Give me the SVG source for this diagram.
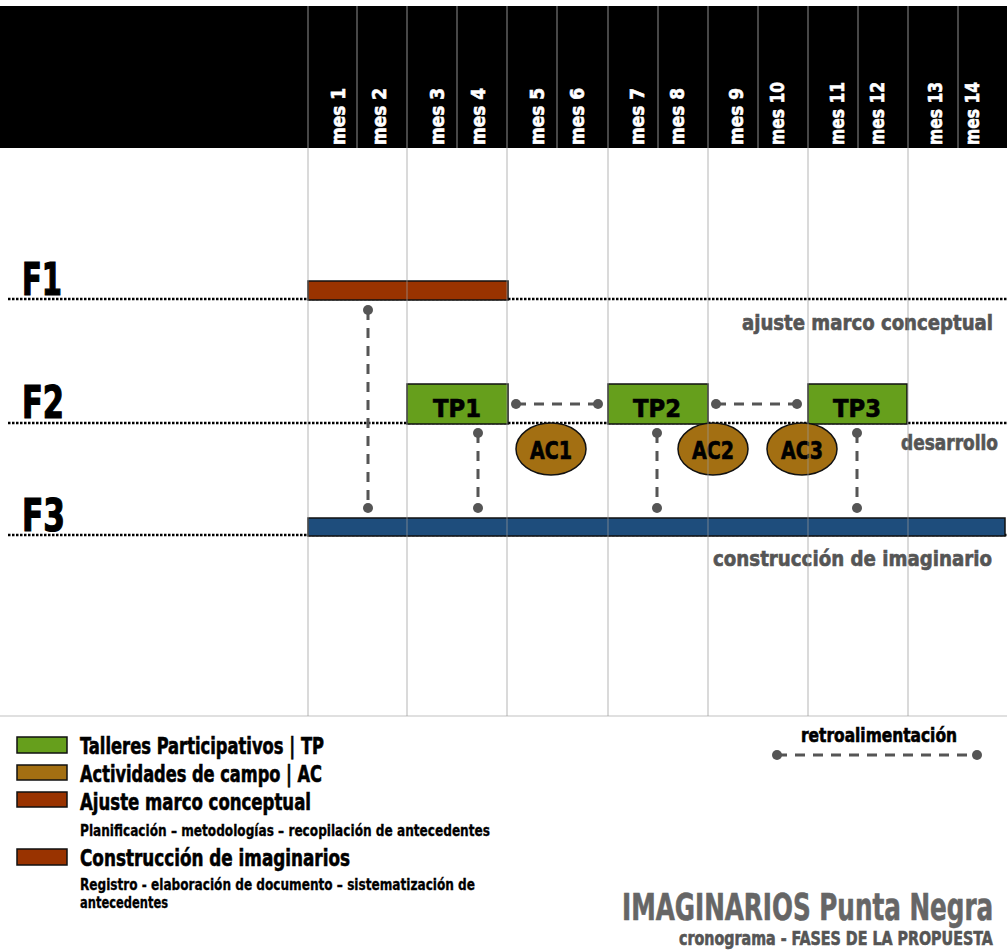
<svg xmlns="http://www.w3.org/2000/svg" width="1007" height="951" viewBox="0 0 1007 951">
<defs>
<style>
.t{font-family:"Liberation Sans Narrow","DejaVu Sans Condensed","Liberation Sans",sans-serif;font-weight:bold;stroke-width:0.6;}
.mes{fill:#fff;stroke:#fff;font-size:19px;}
.gray{fill:#555;stroke:#555;font-size:21px;}
.fl{fill:#000;stroke:#000;stroke-width:1.2;font-size:44px;}
.box{font-size:24px;fill:#000;stroke:#000;text-anchor:middle;}
.leg{font-size:23px;fill:#000;stroke:#000;}
.sm{font-size:15px;fill:#000;stroke:#000;stroke-width:0.3;}
.dotline{stroke:#000;stroke-width:2.5;stroke-dasharray:2.5 1.5;fill:none;}
.grid{stroke:#999;stroke-width:1.2;stroke-opacity:0.6;}
.hgrid{stroke:#777;stroke-width:1.2;}
.conn{stroke:#555;stroke-width:3;stroke-dasharray:10 8;fill:none;}
.dot{fill:#555;}
</style>
</defs>
<rect x="0" y="0" width="1007" height="951" fill="#fff"/>
<g id="header">
<rect x="0" y="6" width="1007" height="142" fill="#000"/>
<g class="hgrid">
<line x1="308" y1="6" x2="308" y2="148"/><line x1="357" y1="6" x2="357" y2="148"/>
<line x1="407" y1="6" x2="407" y2="148"/><line x1="457" y1="6" x2="457" y2="148"/>
<line x1="507" y1="6" x2="507" y2="148"/><line x1="557" y1="6" x2="557" y2="148"/>
<line x1="608" y1="6" x2="608" y2="148"/><line x1="658" y1="6" x2="658" y2="148"/>
<line x1="708" y1="6" x2="708" y2="148"/><line x1="758" y1="6" x2="758" y2="148"/>
<line x1="808" y1="6" x2="808" y2="148"/><line x1="858" y1="6" x2="858" y2="148"/>
<line x1="908" y1="6" x2="908" y2="148"/><line x1="958" y1="6" x2="958" y2="148"/>
</g>
<g class="t mes">
<text transform="translate(345,145) rotate(-90)" textLength="57" lengthAdjust="spacingAndGlyphs">mes 1</text>
<text transform="translate(386,145) rotate(-90)" textLength="57" lengthAdjust="spacingAndGlyphs">mes 2</text>
<text transform="translate(444,145) rotate(-90)" textLength="57" lengthAdjust="spacingAndGlyphs">mes 3</text>
<text transform="translate(485,145) rotate(-90)" textLength="57" lengthAdjust="spacingAndGlyphs">mes 4</text>
<text transform="translate(544,145) rotate(-90)" textLength="57" lengthAdjust="spacingAndGlyphs">mes 5</text>
<text transform="translate(584,145) rotate(-90)" textLength="57" lengthAdjust="spacingAndGlyphs">mes 6</text>
<text transform="translate(644,145) rotate(-90)" textLength="57" lengthAdjust="spacingAndGlyphs">mes 7</text>
<text transform="translate(684,145) rotate(-90)" textLength="57" lengthAdjust="spacingAndGlyphs">mes 8</text>
<text transform="translate(743,145) rotate(-90)" textLength="57" lengthAdjust="spacingAndGlyphs">mes 9</text>
<text transform="translate(784,145) rotate(-90)" textLength="63" lengthAdjust="spacingAndGlyphs">mes 10</text>
<text transform="translate(844,145) rotate(-90)" textLength="63" lengthAdjust="spacingAndGlyphs">mes 11</text>
<text transform="translate(884,145) rotate(-90)" textLength="63" lengthAdjust="spacingAndGlyphs">mes 12</text>
<text transform="translate(942,145) rotate(-90)" textLength="63" lengthAdjust="spacingAndGlyphs">mes 13</text>
<text transform="translate(979,145) rotate(-90)" textLength="63" lengthAdjust="spacingAndGlyphs">mes 14</text>
</g>
</g>
<g id="phase-lines">
<line class="dotline" x1="8" y1="299" x2="1007" y2="299"/>
<line class="dotline" x1="8" y1="423" x2="1007" y2="423"/>
<line class="dotline" x1="8" y1="535" x2="1007" y2="535"/>
<text class="t fl" x="22" y="295" textLength="40" lengthAdjust="spacingAndGlyphs">F1</text>
<text class="t fl" x="22" y="418" textLength="42" lengthAdjust="spacingAndGlyphs">F2</text>
<text class="t fl" x="22" y="531" textLength="43" lengthAdjust="spacingAndGlyphs">F3</text>
<text class="t gray" x="742" y="330" textLength="251" lengthAdjust="spacingAndGlyphs">ajuste marco conceptual</text>
<text class="t gray" x="901" y="450" font-size="19" textLength="97" lengthAdjust="spacingAndGlyphs">desarrollo</text>
<text class="t gray" x="713" y="566" textLength="279" lengthAdjust="spacingAndGlyphs">construcción de imaginario</text>
</g>
<g id="F1-bar"><rect x="308" y="281" width="200" height="19" fill="#993300" stroke="#111" stroke-width="1.5"/></g>
<g id="F3-bar"><rect x="308" y="518" width="697" height="18" fill="#1e4d7c" stroke="#111" stroke-width="1.5"/></g>
<g id="TP1"><rect x="407" y="384" width="101" height="40" fill="#669f1c" stroke="#111" stroke-width="1.5"/><text class="t box" x="457" y="417" textLength="48" lengthAdjust="spacingAndGlyphs">TP1</text></g>
<g id="TP2"><rect x="608" y="384" width="100" height="40" fill="#669f1c" stroke="#111" stroke-width="1.5"/><text class="t box" x="657" y="417" textLength="48" lengthAdjust="spacingAndGlyphs">TP2</text></g>
<g id="TP3"><rect x="808" y="384" width="99" height="40" fill="#669f1c" stroke="#111" stroke-width="1.5"/><text class="t box" x="857" y="417" textLength="48" lengthAdjust="spacingAndGlyphs">TP3</text></g>
<g id="AC1"><ellipse cx="551" cy="449" rx="35" ry="26" fill="#a36f12" stroke="#111" stroke-width="1.5"/><text class="t box" x="551" y="459" textLength="42" lengthAdjust="spacingAndGlyphs">AC1</text></g>
<g id="AC2"><ellipse cx="713" cy="449" rx="35" ry="26" fill="#a36f12" stroke="#111" stroke-width="1.5"/><text class="t box" x="713" y="459" textLength="42" lengthAdjust="spacingAndGlyphs">AC2</text></g>
<g id="AC3"><ellipse cx="802" cy="449" rx="35" ry="26" fill="#a36f12" stroke="#111" stroke-width="1.5"/><text class="t box" x="802" y="459" textLength="42" lengthAdjust="spacingAndGlyphs">AC3</text></g>
<g id="connectors">
<line class="conn" x1="368" y1="310" x2="368" y2="508"/>
<line class="conn" x1="478" y1="433" x2="478" y2="508"/>
<line class="conn" x1="657" y1="433" x2="657" y2="508"/>
<line class="conn" x1="857" y1="433" x2="857" y2="508"/>
<line class="conn" x1="516" y1="404" x2="598" y2="404"/>
<line class="conn" x1="716" y1="404" x2="797" y2="404"/>
<g class="dot">
<circle cx="368" cy="310" r="5"/><circle cx="368" cy="508" r="5"/>
<circle cx="478" cy="433" r="5"/><circle cx="478" cy="508" r="5"/>
<circle cx="657" cy="433" r="5"/><circle cx="657" cy="508" r="5"/>
<circle cx="857" cy="433" r="5"/><circle cx="857" cy="508" r="5"/>
<circle cx="516" cy="404" r="5"/><circle cx="598" cy="404" r="5"/>
<circle cx="716" cy="404" r="5"/><circle cx="797" cy="404" r="5"/>
</g>
</g>
<g id="grid" class="grid">
<line x1="308" y1="148" x2="308" y2="716"/>
<line x1="407" y1="148" x2="407" y2="716"/>
<line x1="507" y1="148" x2="507" y2="716"/>
<line x1="608" y1="148" x2="608" y2="716"/>
<line x1="708" y1="148" x2="708" y2="716"/>
<line x1="808" y1="148" x2="808" y2="716"/>
<line x1="908" y1="148" x2="908" y2="716"/>
<line x1="0" y1="716" x2="1007" y2="716"/>
</g>
<g id="legend">
<rect x="17" y="737" width="50" height="16" fill="#669f1c" stroke="#111" stroke-width="1.5"/>
<rect x="17" y="765" width="50" height="15" fill="#a36f12" stroke="#111" stroke-width="1.5"/>
<rect x="17" y="792" width="50" height="15" fill="#993300" stroke="#111" stroke-width="1.5"/>
<rect x="17" y="849" width="50" height="16" fill="#993300" stroke="#111" stroke-width="1.5"/>
<text class="t leg" x="80" y="754" textLength="244" lengthAdjust="spacingAndGlyphs">Talleres Participativos | TP</text>
<text class="t leg" x="80" y="782" textLength="242" lengthAdjust="spacingAndGlyphs">Actividades de campo | AC</text>
<text class="t leg" x="80" y="810" textLength="231" lengthAdjust="spacingAndGlyphs">Ajuste marco conceptual</text>
<text class="t sm" x="80" y="836" textLength="410" lengthAdjust="spacingAndGlyphs">Planificación – metodologías – recopilación de antecedentes</text>
<text class="t leg" x="80" y="866" textLength="270" lengthAdjust="spacingAndGlyphs">Construcción de imaginarios</text>
<text class="t sm" x="80" y="890" textLength="395" lengthAdjust="spacingAndGlyphs">Registro - elaboración de documento – sistematización  de</text>
<text class="t sm" x="80" y="908" textLength="88" lengthAdjust="spacingAndGlyphs">antecedentes</text>
<text class="t" x="801" y="742" font-size="19" fill="#000" stroke="#000" textLength="156" lengthAdjust="spacingAndGlyphs">retroalimentación</text>
<line class="conn" x1="777" y1="755" x2="977" y2="755"/>
<circle class="dot" cx="777" cy="755" r="5"/><circle class="dot" cx="977" cy="755" r="5"/>
</g>
<g id="title">
<text class="t" transform="translate(622,920) scale(0.75,1)" font-size="37" fill="#666" stroke="#666" textLength="495" lengthAdjust="spacingAndGlyphs">IMAGINARIOS  Punta Negra</text>
<text class="t" transform="translate(679,945) scale(0.83,1)" font-size="19" fill="#555" stroke="#555" textLength="378" lengthAdjust="spacingAndGlyphs">cronograma - FASES DE LA PROPUESTA</text>
</g>
</svg>
